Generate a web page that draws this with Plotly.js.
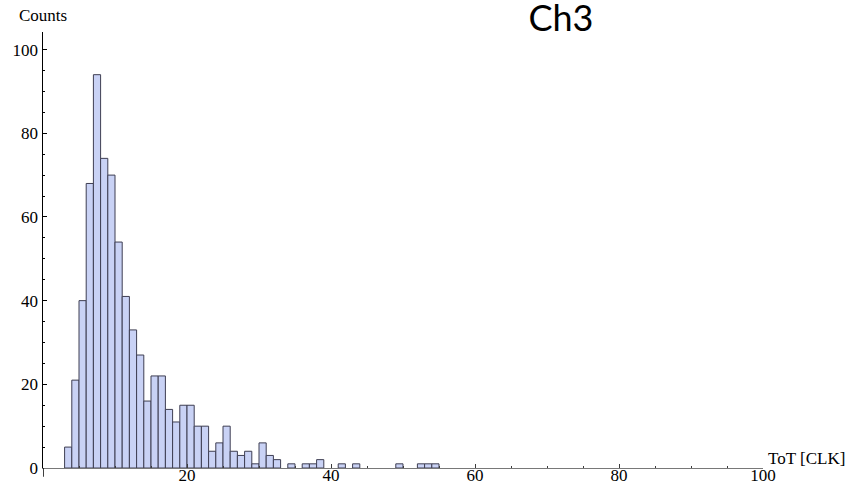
<!DOCTYPE html>
<html>
<head>
<meta charset="utf-8">
<script src="https://cdn.plot.ly/plotly-3.0.1.min.js"></script>
<style>html,body{margin:0;padding:0;background:#fff;}#chart{width:858px;height:486px;}</style>
</head>
<body>
<div id="chart"></div>
<script>
// Histogram of ToT values, unit-width bins starting at binLeft
const binLeft = [3,4,5,6,7,8,9,10,11,12,13,14,15,16,17,18,19,20,21,22,23,24,25,26,27,28,29,30,31,32,33,34,35,36,37,38,39,40,41,42,43,44,45,46,47,48,49,50,51,52,53,54];
const counts  = [5,21,40,68,94,74,70,54,41,33,27,16,22,22,14,11,15,15,10,10,4,6,10,4,3,4,1,6,3,2,0,1,0,1,1,2,0,0,1,0,1,0,0,0,0,0,1,0,0,1,1,1];
const xTickVals = [20,40,60,80,100];
const yTickVals = [0,20,40,60,80,100];
const titleText = "Ch3";
const xLabel = "ToT [CLK]";
const yLabel = "Counts";

const bx = [], by = [];
binLeft.forEach((b,i)=>{ if(counts[i]>0){ bx.push(b); by.push(counts[i]); } });

const serif = "Liberation Serif, Times New Roman, serif";

const trace = {
  type: "bar",
  x: bx, y: by,
  width: 1, offset: 0,
  marker: {color: "rgb(201,210,245)", line: {color: "rgb(62,62,82)", width: 1}},
  hoverinfo: "skip"
};

const layout = {
  width: 858, height: 486,
  margin: {l: 43, r: 95, t: 32, b: 18, pad: 0},
  paper_bgcolor: "#fff", plot_bgcolor: "#fff",
  showlegend: false,
  bargap: 0,
  title: {text: titleText, x: 561/858, xanchor: "center", xref: "container",
          y: 1 - 18/486, yanchor: "middle", yref: "container",
          font: {family: "Lato, Open Sans, sans-serif", size: 36, weight: 400, color: "#000"}},
  xaxis: {
    range: [0, 100], showgrid: false, zeroline: false,
    showline: true, linecolor: "rgb(120,120,120)", linewidth: 1.2,
    tickvals: xTickVals, ticktext: xTickVals.map(String),
    ticks: "inside", ticklen: 4, tickcolor: "rgb(60,60,60)", tickwidth: 1,
    minor: {dtick: 5, tick0: 0, ticks: "inside", ticklen: 2, tickcolor: "rgb(60,60,60)", showgrid: false},
    tickfont: {family: serif, size: 17, color: "#000"},
    ticklabelstandoff: -9,
    automargin: false, fixedrange: true
  },
  yaxis: {
    range: [0, 104.2], showgrid: false, zeroline: false,
    showline: true, linecolor: "#000", linewidth: 1.5,
    tickvals: yTickVals, ticktext: yTickVals.map(String),
    ticks: "inside", ticklen: 4, tickcolor: "#000", tickwidth: 1,
    minor: {dtick: 5, tick0: 0, ticks: "inside", ticklen: 2, tickcolor: "#000", showgrid: false},
    tickfont: {family: serif, size: 17, color: "#000"},
    automargin: false, fixedrange: true
  },
  shapes: [
    {type: "line", xref: "x", yref: "paper", x0: 0, x1: 0, y0: -0.02, y1: 0,
     line: {color: "#000", width: 1.5}}
  ],
  annotations: [
    {text: yLabel, xref: "paper", yref: "paper", x: 0, y: 1, xanchor: "center", yanchor: "bottom",
     xshift: 0, yshift: 5, showarrow: false, font: {family: serif, size: 17, color: "#000"}},
    {text: xLabel, xref: "paper", yref: "paper", x: 1, y: 0, xanchor: "left", yanchor: "middle",
     xshift: 3, yshift: 10, showarrow: false, font: {family: serif, size: 17, color: "#000"}}
  ]
};

Plotly.newPlot("chart", [trace], layout, {displayModeBar: false, staticPlot: true});
</script>
</body>
</html>
